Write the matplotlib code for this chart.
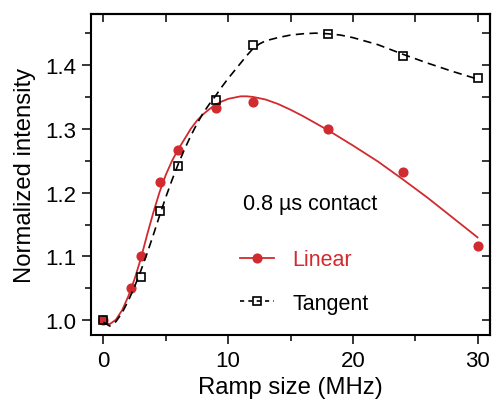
import numpy as np
import matplotlib
matplotlib.use("Agg")
import matplotlib.pyplot as plt
from matplotlib.lines import Line2D

plt.rcParams['font.family'] = ['Liberation Sans', 'DejaVu Sans']

# measured points
lin_x = [0, 2.2, 3, 4.5, 6, 9, 12, 18, 24, 30]
lin_y = [1.000, 1.050, 1.100, 1.217, 1.267, 1.333, 1.342, 1.300, 1.233, 1.117]
tan_x = [0, 3, 4.5, 6, 9, 12, 18, 24, 30]
tan_y = [1.000, 1.068, 1.172, 1.242, 1.345, 1.431, 1.449, 1.414, 1.379]

# fitted curves
fit_x = [0, 0.5, 1, 1.5, 2, 2.5, 3, 3.5, 4, 4.5, 5, 5.5, 6, 6.5, 7, 7.5,
         8, 8.5, 9, 9.5, 10, 10.5, 11, 11.5, 12, 12.5, 13,
         14, 15, 16, 17, 18, 19, 20, 22, 24, 26, 28, 30]
lin_fit = [0.997, 0.994, 1.001, 1.016, 1.038, 1.065, 1.097, 1.134, 1.169,
           1.201, 1.228, 1.250, 1.268, 1.284, 1.300, 1.313, 1.323, 1.331,
           1.338, 1.343, 1.347, 1.349, 1.351, 1.351, 1.350, 1.348, 1.346,
           1.339, 1.330, 1.320, 1.309, 1.298, 1.286, 1.274, 1.249, 1.221,
           1.192, 1.161, 1.130]
tan_fit = [0.997, 0.991, 0.998, 1.012, 1.031, 1.053, 1.078, 1.105, 1.134,
           1.164, 1.193, 1.220, 1.245, 1.268, 1.289, 1.308, 1.325, 1.339,
           1.352, 1.366, 1.379, 1.391, 1.403, 1.415, 1.426, 1.433, 1.438,
           1.443, 1.447, 1.449, 1.450, 1.449, 1.447, 1.443, 1.432, 1.417,
           1.403, 1.390, 1.378]

red = '#d12a2f'

fig = plt.figure(figsize=(4.93, 4.02), dpi=100)
ax = fig.add_axes([0.1846, 0.1642, 0.8093, 0.7985])

ax.plot(fit_x, lin_fit, color=red, lw=1.3, zorder=2)
ax.plot(lin_x, lin_y, 'o', color=red, ms=6.3, mec=red, zorder=3)
ax.plot(fit_x, tan_fit, color='black', lw=1.2, ls=(0, (5, 3.2)), zorder=4)
ax.plot(tan_x, tan_y, 's', mfc='none', mec='black', ms=5.6, mew=1.2, zorder=5)

ax.set_xlim(-1, 31)
ax.set_ylim(0.977, 1.48)
ax.set_xticks([0, 10, 20, 30])
ax.set_xticks([5, 15, 25], minor=True)
ax.set_yticks([1.0, 1.1, 1.2, 1.3, 1.4])
ax.set_yticks([1.05, 1.15, 1.25, 1.35, 1.45], minor=True)
ax.set_yticklabels(['1.0', '1.1', '1.2', '1.3', '1.4'])

for s in ax.spines.values():
    s.set_linewidth(1.5)
ax.tick_params(which='major', direction='out', length=6.5, width=1.1,
               labelsize=16, pad=4)
ax.tick_params(which='minor', direction='out', length=4, width=1.1)

# mirror ticks pointing inward on top and right
top = ax.secondary_xaxis('top')
top.set_xticks([0, 5, 10, 15, 20, 25, 30])
top.tick_params(direction='in', length=6, width=1.1, labeltop=False)
top.spines['top'].set_linewidth(1.5)
right = ax.secondary_yaxis('right')
right.set_yticks([1.0, 1.05, 1.1, 1.15, 1.2, 1.25, 1.3, 1.35, 1.4, 1.45])
right.tick_params(direction='in', length=6, width=1.1, labelright=False)
right.spines['right'].set_linewidth(1.5)

ax.set_xlabel('Ramp size (MHz)', fontsize=17.2, labelpad=4)
ax.set_ylabel('Normalized intensity', fontsize=17.2, labelpad=7)

ax.text(0.381, 0.411, '0.8 µs contact', transform=ax.transAxes,
        fontsize=15.5, va='center', ha='left')
handles = [
    Line2D([], [], color=red, lw=1.3, marker='o', ms=6.3),
    Line2D([], [], color='black', lw=1.2, ls=(0, (2.5, 2.5)), marker='s',
           mfc='none', mec='black', ms=5.6, mew=1.2),
]
leg = ax.legend(handles, ['Linear', 'Tangent'], loc='center left',
                bbox_to_anchor=(0.373, 0.167), frameon=False, fontsize=15.5,
                handlelength=1.6, handletextpad=0.85, labelspacing=1.05,
                borderpad=0, borderaxespad=0, numpoints=1)
leg.get_texts()[0].set_color(red)

fig.savefig('out.png', dpi=100)
